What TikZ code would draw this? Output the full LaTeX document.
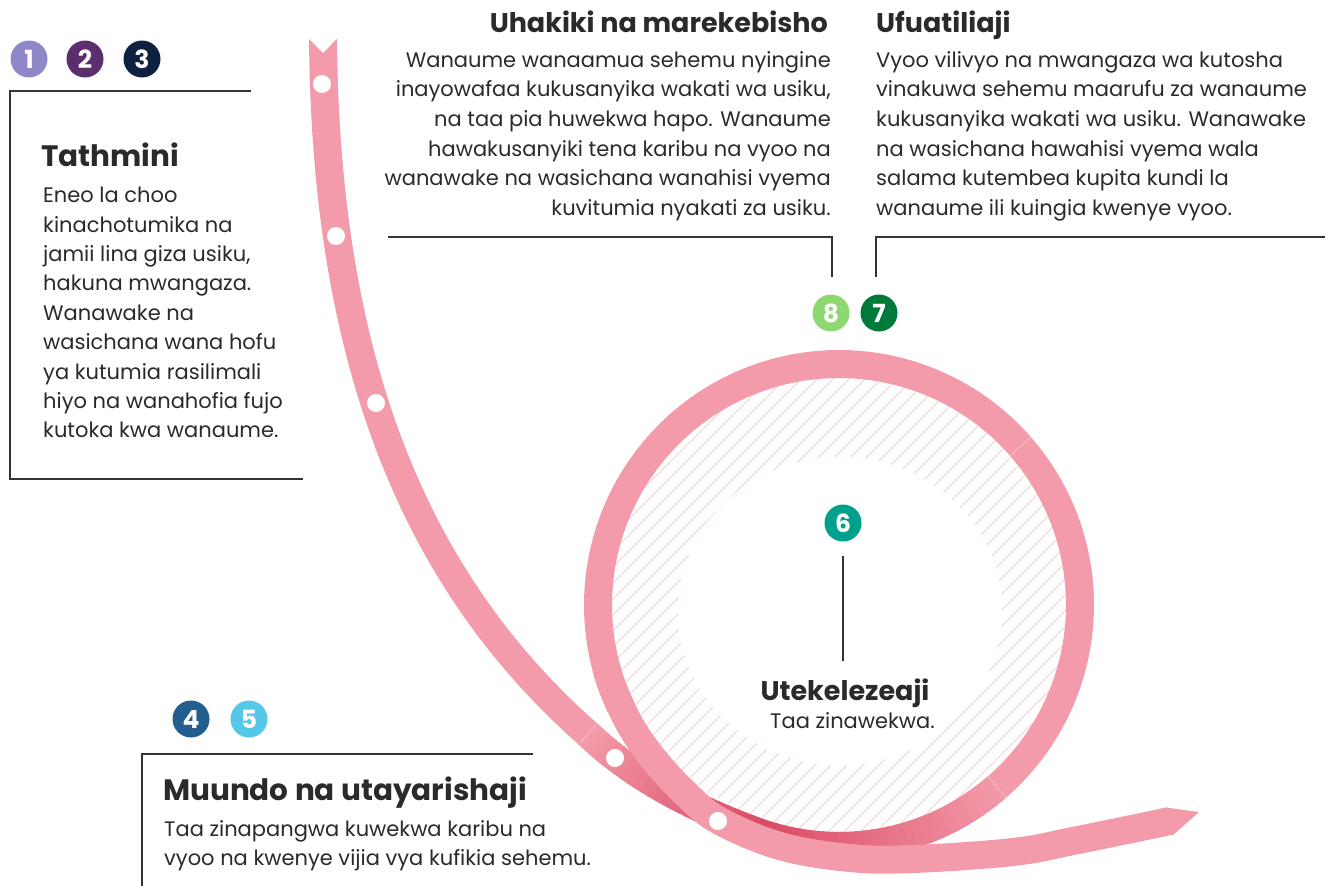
\documentclass[tikz,border=0pt]{standalone}
\usepackage{fontspec}
\setmainfont{Poppins}
\definecolor{rib}{HTML}{F39BAA}
\definecolor{ribdark}{HTML}{DA4A63}
\definecolor{ribseam}{HTML}{F8BEC7}
\definecolor{hatchc}{HTML}{F9CDD3}
\definecolor{txt}{HTML}{2A2A2A}
\definecolor{lin}{HTML}{333333}
\definecolor{cOne}{HTML}{8E88C8}
\definecolor{cTwo}{HTML}{5B2E6E}
\definecolor{cThree}{HTML}{0E2141}
\definecolor{cFour}{HTML}{235E8F}
\definecolor{cFive}{HTML}{55C8E8}
\definecolor{cSix}{HTML}{00A08F}
\definecolor{cSeven}{HTML}{007A3A}
\definecolor{cEight}{HTML}{8ED872}
\begin{document}
\begin{tikzpicture}[x=1pt,y=-1pt,
  ribbon/.style={line width=28pt, draw=rib, line cap=butt, line join=round},
  hatchline/.style={draw=hatchc, line width=1pt},
  seam/.style={draw=ribseam, line width=0.8pt},
  dot/.style={circle, fill=white, minimum size=18pt, inner sep=0pt},
  badge/.style={circle, minimum size=37pt, inner sep=0pt, text=white, font=\fontsize{25}{25}\selectfont\bfseries},
  title/.style={inner sep=0pt, text=txt, font=\fontsize{27}{30}\selectfont\bfseries},
  bigtitle/.style={inner sep=0pt, text=txt, font=\fontsize{29.5}{32}\selectfont\bfseries},
  body/.style={inner sep=0pt, text=txt, font=\fontsize{21}{29.4}\selectfont},
  bodywide/.style={inner sep=0pt, text=txt, font=\fontsize{21}{29.7}\selectfont},
  boxline/.style={draw=lin, line width=1.3pt}]
\useasboundingbox (0,0) rectangle (1328,886);
\def\cx{839}\def\cy{605}\def\R{241}
% hatch
\begin{scope}
  \clip (\cx,\cy) circle[radius=228];
  \foreach \c in {1100,1116,...,1800}{
    \draw[hatchline] ({\c-300},300) -- ({\c-900},900);
  }
\end{scope}
\fill[white] (840,611) ellipse[x radius=162, y radius=154];
% incoming strand
\draw[ribbon] (323,37) .. controls (325,337) and (400.5,569) .. (588,734);
\draw[ribbon] plot[domain=0:1, samples=40] ({(1-\x)^2*588+2*\x*(1-\x)*648.8+\x^2*756.6},{(1-\x)^2*734+2*\x*(1-\x)*792.2+\x^2*831.5});
% ring
\draw[ribbon] plot[domain=111:-205, samples=200] ({\cx+\R*cos(\x)},{\cy+\R*sin(\x)});
% gradient on incoming
\foreach \i in {0,...,23}{
  \pgfmathsetmacro\ta{\i/24}
  \pgfmathsetmacro\tb{min(1,(\i+1.4)/24)}
  \pgfmathsetmacro\mx{100*\ta}
  \draw[ribbon, draw=ribdark!\mx!rib] plot[domain=\ta:\tb, samples=4] ({(1-\x)^2*588+2*\x*(1-\x)*648.8+\x^2*756.6},{(1-\x)^2*734+2*\x*(1-\x)*792.2+\x^2*831.5});
}
% gradient on ring bottom
\foreach \i in {0,...,30}{
  \pgfmathsetmacro\ta{110-2*\i}
  \pgfmathsetmacro\tb{max(49,\ta-2.6)}
  \pgfmathsetmacro\mx{100*(\ta-49)/61}
  \draw[ribbon, draw=ribdark!\mx!rib] plot[domain=\ta:\tb, samples=4] ({\cx+\R*cos(\x)},{\cy+\R*sin(\x)});
}
% seams
\draw[seam] (580,743) -- (596,725);
\draw[seam] (988,776) -- (1006,798);
\draw[seam] (1010,456) -- (1031,437);
% top strand
\draw[ribbon] plot[smooth, tension=0.6] coordinates {(606.2,667.4) (612.5,687.4) (630.3,725.5) (654.4,759.9) (684,792) (718,820) (780,846) (850,858) (913,859) (1013,852) (1073,841) (1170,821)};
\fill[rib] (1166,807.5) -- (1199,812) -- (1173,835) -- (1171,834) -- cycle;
% notch at top
\fill[white] (300,28) -- (346,28) -- (346,37.5) -- (338,37.5) -- (323,53) -- (308,37.5) -- (300,37.5) -- cycle;
% dots
\node[dot] (d1) at (322,84) {};
\node[dot] (d2) at (336,236) {};
\node[dot] (d3) at (376,403) {};
\node[dot] (d4) at (615,758) {};
\node[dot] (d5) at (718,821) {};
% badges
\node[badge, fill=cOne] (n1) at (29,59) {1};
\node[badge, fill=cTwo] (n2) at (85,59) {2};
\node[badge, fill=cThree] (n3) at (142,59) {3};
\node[badge, fill=cFour] (n4) at (191,719) {4};
\node[badge, fill=cFive] (n5) at (249,719) {5};
\node[badge, fill=cSix] (n6) at (843,523) {6};
\node[badge, fill=cEight] (n8) at (831,313) {8};
\node[badge, fill=cSeven] (n7) at (879,313) {7};
% box lines
\draw[boxline] (251,91) -- (10,91) -- (10,479) -- (303,479);
\draw[boxline] (388,237) -- (832,237) -- (832,277);
\draw[boxline] (1325,237) -- (876,237) -- (876,277);
\draw[boxline] (533,754) -- (142,754) -- (142,886);
\draw[boxline] ([yshift=-14pt]n6.south) -- ++(0,105);
% texts
\node[bigtitle, anchor=base west] (tA) at (41,166) {Tathmini};
\node[body, align=left, anchor=north west] (bA) at (43,187) {Eneo la choo\\kinachotumika na\\jamii lina giza usiku,\\hakuna mwangaza.\\Wanawake na\\wasichana wana hofu\\ya kutumia rasilimali\\hiyo na wanahofia fujo\\kutoka kwa wanaume.};
\node[title, anchor=base east] (tB) at (828,32) {Uhakiki na marekebisho};
\node[bodywide, align=right, anchor=north east] (bB) at (831,51) {Wanaume wanaamua sehemu nyingine\\inayowafaa kukusanyika wakati wa usiku,\\na taa pia huwekwa hapo. Wanaume\\hawakusanyiki tena karibu na vyoo na\\wanawake na wasichana wanahisi vyema\\kuvitumia nyakati za usiku.};
\node[title, anchor=base west] (tC) at (876,32) {Ufuatiliaji};
\node[bodywide, align=left, anchor=north west] (bC) at (876,51) {Vyoo vilivyo na mwangaza wa kutosha\\vinakuwa sehemu maarufu za wanaume\\kukusanyika wakati wa usiku. Wanawake\\na wasichana hawahisi vyema wala\\salama kutembea kupita kundi la\\wanaume ili kuingia kwenye vyoo.};
\node[bigtitle, anchor=base west] (tD) at (163,800) {Muundo na utayarishaji};
\node[body, align=left, anchor=north west] (bD) at (164,820) {Taa zinapangwa kuwekwa karibu na\\vyoo na kwenye vijia vya kufikia sehemu.};
\node[title, anchor=base] (tE) at (845,700) {Utekelezeaji};
\node[body, anchor=base west] (bE) at (770,728) {Taa zinawekwa.};
\end{tikzpicture}
\end{document}
